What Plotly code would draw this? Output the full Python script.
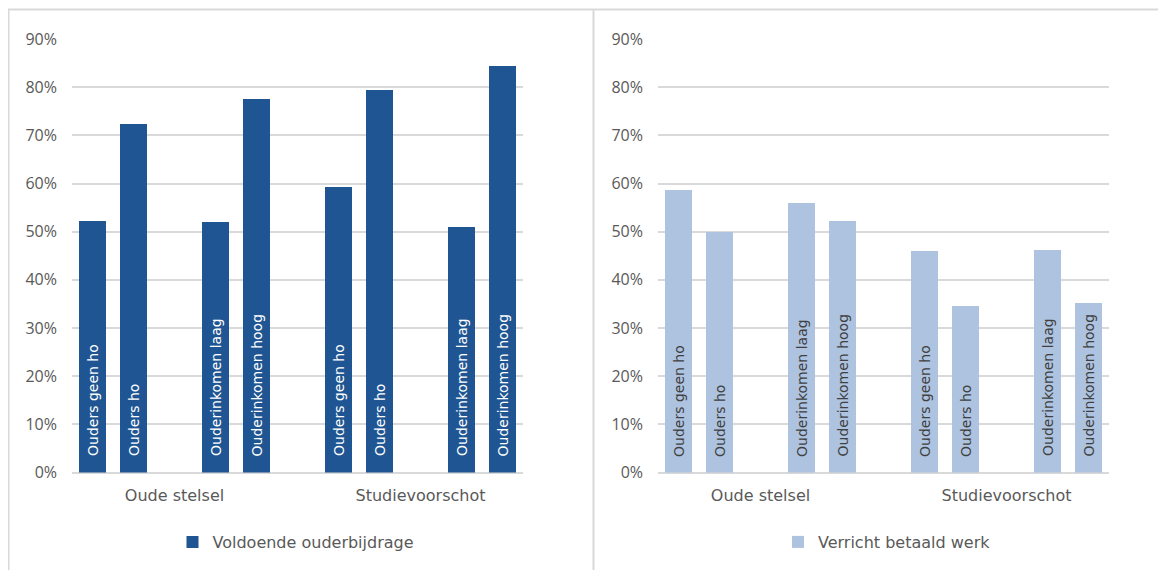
import plotly.graph_objects as go

# Gegevens
groepen = ["Oude stelsel", "Studievoorschot"]
balk_labels = ["Ouders geen ho", "Ouders ho", "Ouderinkomen laag", "Ouderinkomen hoog"]

ouderbijdrage_oud = [0.522, 0.723, 0.520, 0.775]
ouderbijdrage_sv = [0.593, 0.794, 0.510, 0.844]
betaald_werk_oud = [0.586, 0.499, 0.559, 0.522]
betaald_werk_sv = [0.460, 0.345, 0.462, 0.352]

y_ticks = [0, 0.1, 0.2, 0.3, 0.4, 0.5, 0.6, 0.7, 0.8, 0.9]

W, H = 1166, 570
OFF = 8  # de pagina zet de figuur 8px naar rechts/onder (body margin)
GRID = '#d9d9d9'
TXT = '#595959'
DONKER = '#1f5592'
LICHT = '#adc3df'


def fx(px):
    # vensterpixel -> paper x
    return (px - OFF) / W


def fy(py):
    # vensterpixel (van boven) -> paper y
    return (H - (py - OFF)) / H


# elke groep heeft 5 plekken: geen ho, ho, (leeg), laag, hoog
def posities():
    xs = []
    for g in range(len(groepen)):
        for i in range(len(balk_labels)):
            xs.append(g * 6 + i + (1 if i >= 2 else 0))
    return xs


xs = posities()
labels = balk_labels * len(groepen)
group_ticks = [g * 6 + 2 for g in range(len(groepen))]

panels = [
    dict(name='Voldoende ouderbijdrage', values=ouderbijdrage_oud + ouderbijdrage_sv,
         color=DONKER, textcolor='white', xaxis='x', yaxis='y', legend='legend'),
    dict(name='Verricht betaald werk', values=betaald_werk_oud + betaald_werk_sv,
         color=LICHT, textcolor='#404040', xaxis='x2', yaxis='y2', legend='legend2'),
]

fig = go.Figure()
annotations = []
for p in panels:
    fig.add_trace(go.Bar(
        x=xs, y=p['values'], name=p['name'], width=0.67,
        marker=dict(color=p['color'], line=dict(width=0)),
        xaxis=p['xaxis'], yaxis=p['yaxis'], legend=p['legend'], showlegend=True,
    ))
    for x, lab in zip(xs, labels):
        annotations.append(dict(
            x=x, y=0, xref=p['xaxis'], yref=p['yaxis'], text=lab, textangle=-90,
            showarrow=False, xanchor='center', yanchor='bottom', yshift=14,
            font=dict(family='DejaVu Sans', size=14, color=p['textcolor']),
        ))

x_common = dict(range=[-0.5, 10.5], tickvals=group_ticks, ticktext=groepen, showgrid=False,
                zeroline=False, showline=False, ticks='', ticklabelstandoff=11, automargin=False,
                tickfont=dict(family='DejaVu Sans', size=16, color=TXT), fixedrange=True)
y_common = dict(range=[0, 0.9], tickvals=y_ticks, tickformat='.0%', showgrid=True, gridcolor=GRID,
                gridwidth=1.5, zeroline=True, zerolinecolor=GRID, zerolinewidth=1.5, showline=False,
                ticks='', ticklabelstandoff=14, automargin=False, fixedrange=True,
                tickfont=dict(family='Open Sans', size=16, color=TXT))

y_dom = [fy(472.5), fy(39)]

lijnen = [
    dict(x0=fx(7.5), x1=1.01, y0=fy(9.5), y1=fy(9.5)),
    dict(x0=fx(8.5), x1=fx(8.5), y0=-0.05, y1=fy(9.5)),
    dict(x0=fx(593.5), x1=fx(593.5), y0=-0.05, y1=fy(9.5)),
]
shapes = [dict(type='line', xref='paper', yref='paper', line=dict(color=GRID, width=2), **l) for l in lijnen]

legend_font = dict(family='DejaVu Sans', size=16, color=TXT)

fig.update_layout(
    width=W, height=H,
    margin=dict(l=0, r=0, t=0, b=0, autoexpand=False),
    paper_bgcolor='white', plot_bgcolor='white',
    xaxis=dict(domain=[fx(72), fx(523)], anchor='y', **x_common),
    yaxis=dict(domain=y_dom, anchor='x', **y_common),
    xaxis2=dict(domain=[fx(658), fx(1109)], anchor='y2', **x_common),
    yaxis2=dict(domain=y_dom, anchor='x2', **y_common),
    legend=dict(x=fx(296), y=fy(542), xanchor='center', yanchor='middle',
                orientation='h', font=legend_font, itemwidth=30, bgcolor='rgba(0,0,0,0)'),
    legend2=dict(x=fx(887), y=fy(542), xanchor='center', yanchor='middle',
                 orientation='h', font=legend_font, itemwidth=30, bgcolor='rgba(0,0,0,0)'),
    annotations=annotations,
    shapes=shapes,
    bargap=0,
)

fig.write_html("out.html")
